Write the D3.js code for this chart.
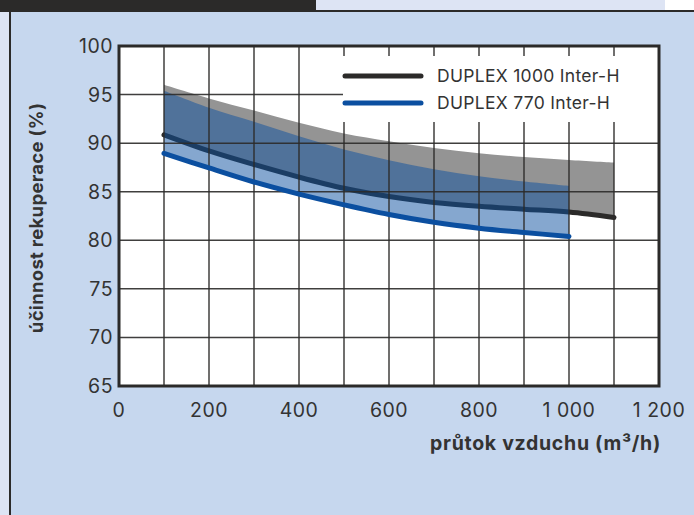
<!DOCTYPE html>
<html>
<head>
<meta charset="utf-8">
<script src="https://cdn.jsdelivr.net/npm/d3@7"></script>
<style>
  body { margin: 0; background: #fff; }
  svg { display: block; }
  text { font-family: Inter, 'Open Sans', sans-serif; fill: #333; }
</style>
</head>
<body>
<svg id="chart"></svg>
<script>
// airflow (m3/h) and efficiency (%)
const flow1000 = [100, 200, 300, 400, 500, 600, 700, 800, 900, 1000, 1100];
const duplex1000 = [90.85, 89.2, 87.8, 86.5, 85.35, 84.5, 83.9, 83.5, 83.2, 82.9, 82.35];
const duplex1000Max = [96.0, 94.6, 93.35, 92.1, 91.0, 90.2, 89.5, 88.97, 88.57, 88.27, 88.0];

const flow770 = [100, 200, 300, 400, 500, 600, 700, 800, 900, 1000];
const duplex770 = [88.95, 87.45, 86.0, 84.75, 83.65, 82.65, 81.85, 81.25, 80.8, 80.4];
const duplex770Max = [95.4, 93.65, 92.2, 90.7, 89.35, 88.25, 87.3, 86.6, 86.05, 85.6];

const xTicks = [0, 200, 400, 600, 800, 1000, 1200];
const xTickLabels = ['0', '200', '400', '600', '800', '1\u00a0000', '1\u00a0200'];
const xGrid = [100, 200, 300, 400, 500, 600, 700, 800, 900, 1000, 1100];
const yTicks = [65, 70, 75, 80, 85, 90, 95, 100];
const seriesNames = ['DUPLEX 1000 Inter-H', 'DUPLEX 770 Inter-H'];

const width = 694;
const height = 515;
const dark = '#2b2a29';
const blue = '#0b4fa0';

const svg = d3.select('#chart')
  .attr('width', width)
  .attr('height', height);

// page frame
svg.append('rect').attr('width', width).attr('height', height).attr('fill', '#dde4f4');
svg.append('rect').attr('x', 665).attr('width', 29).attr('height', 11).attr('fill', '#fff');
svg.append('rect').attr('width', 316).attr('height', 11).attr('fill', dark);
svg.append('rect').attr('x', 10).attr('y', 11).attr('width', width).attr('height', height)
  .attr('fill', '#c6d7ee');
svg.append('line').attr('x1', 0).attr('x2', width).attr('y1', 11).attr('y2', 11)
  .attr('stroke', dark).attr('stroke-width', 2);
svg.append('line').attr('x1', 10).attr('x2', 10).attr('y1', 10).attr('y2', height)
  .attr('stroke', dark).attr('stroke-width', 2);

const x = d3.scaleLinear().domain([0, 1200]).range([119, 659]);
const y = d3.scaleLinear().domain([65, 100]).range([386, 46]);
const curve = d3.curveCatmullRom.alpha(0.5);

svg.append('rect')
  .attr('x', x(0)).attr('y', y(100))
  .attr('width', x(1200) - x(0)).attr('height', y(65) - y(100))
  .attr('fill', '#fff');

const band1000 = d3.area()
  .x((d, i) => x(flow1000[i]))
  .y0((d, i) => y(duplex1000[i]))
  .y1(d => y(d))
  .curve(curve);

const band770 = d3.area()
  .x((d, i) => x(flow770[i]))
  .y0((d, i) => y(duplex770[i]))
  .y1(d => y(d))
  .curve(curve);

const line1000 = d3.line()
  .x((d, i) => x(flow1000[i]))
  .y(d => y(d))
  .curve(curve);

const line770 = d3.line()
  .x((d, i) => x(flow770[i]))
  .y(d => y(d))
  .curve(curve);

svg.append('path')
  .datum(duplex1000Max)
  .attr('d', band1000)
  .attr('fill', '#949494');

svg.append('path')
  .datum(duplex1000)
  .attr('d', line1000)
  .attr('fill', 'none')
  .attr('stroke', dark)
  .attr('stroke-width', 5)
  .attr('stroke-linecap', 'round');

svg.append('path')
  .datum(duplex770Max)
  .attr('d', band770)
  .attr('fill', blue)
  .attr('fill-opacity', 0.5);

// grid
const grid = svg.append('g')
  .attr('stroke', dark)
  .attr('stroke-width', 1.5)
  .attr('stroke-opacity', 0.9);

grid.selectAll('.gx')
  .data(xGrid)
  .enter().append('line')
  .attr('x1', d => x(d)).attr('x2', d => x(d))
  .attr('y1', y(100)).attr('y2', y(65));

grid.selectAll('.gy')
  .data(yTicks.slice(1, -1))
  .enter().append('line')
  .attr('x1', x(0)).attr('x2', x(1200))
  .attr('y1', d => y(d)).attr('y2', d => y(d));

svg.append('path')
  .datum(duplex770)
  .attr('d', line770)
  .attr('fill', 'none')
  .attr('stroke', blue)
  .attr('stroke-width', 5)
  .attr('stroke-linecap', 'round');

// legend
const legend = svg.append('g');

legend.append('rect')
  .attr('x', 343).attr('y', 56)
  .attr('width', x(1200) - 343).attr('height', 66)
  .attr('fill', '#fff');

const legendItem = legend.selectAll('g')
  .data(seriesNames)
  .enter().append('g')
  .attr('transform', (d, i) => `translate(0, ${76 + i * 27})`);

legendItem.append('line')
  .attr('x1', 345).attr('x2', 421)
  .attr('stroke', (d, i) => i === 0 ? dark : blue)
  .attr('stroke-width', 5)
  .attr('stroke-linecap', 'round');

legendItem.append('text')
  .attr('x', 437)
  .attr('dy', '0.35em')
  .attr('font-size', 17.5)
  .attr('letter-spacing', 0.3)
  .text(d => d);

// plot border
svg.append('rect')
  .attr('x', x(0)).attr('y', y(100))
  .attr('width', x(1200) - x(0)).attr('height', y(65) - y(100))
  .attr('fill', 'none')
  .attr('stroke', dark)
  .attr('stroke-width', 3);

// tick labels
svg.append('g')
  .selectAll('text')
  .data(yTicks)
  .enter().append('text')
  .attr('x', 113)
  .attr('y', d => y(d))
  .attr('dy', '0.36em')
  .attr('text-anchor', 'end')
  .attr('font-size', 19.5)
  .attr('letter-spacing', 0.5)
  .text(d => d);

svg.append('g')
  .selectAll('text')
  .data(xTicks)
  .enter().append('text')
  .attr('x', d => x(d))
  .attr('y', 410)
  .attr('dy', '0.36em')
  .attr('text-anchor', 'middle')
  .attr('font-size', 19.5)
  .attr('letter-spacing', 0.5)
  .text((d, i) => xTickLabels[i]);

// axis titles
svg.append('text')
  .attr('x', x(1200) + 2)
  .attr('y', 443)
  .attr('dy', '0.35em')
  .attr('text-anchor', 'end')
  .attr('font-size', 19.5)
  .attr('font-weight', 700)
  .attr('letter-spacing', 0.7)
  .text('průtok vzduchu (m³/h)');

svg.append('text')
  .attr('transform', 'translate(37, 218) rotate(-90)')
  .attr('dy', '0.35em')
  .attr('text-anchor', 'middle')
  .attr('font-size', 18.5)
  .attr('font-weight', 700)
  .attr('letter-spacing', 0.3)
  .text('účinnost rekuperace (%)');
</script>
</body>
</html>
